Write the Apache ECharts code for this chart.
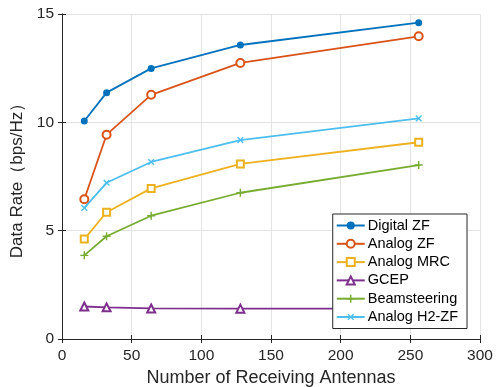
<!DOCTYPE html>
<html><head><meta charset="utf-8">
<script src="https://cdn.jsdelivr.net/npm/echarts@6/dist/echarts.min.js"></script>
<style>html,body{margin:0;padding:0;background:#fff}#c{width:500px;height:387px}</style>
</head><body><div id="c"></div>
<script>
const antennas = [16, 32, 64, 128, 256];
const digitalZF = [10.06, 11.37, 12.49, 13.57, 14.6];
const analogZF = [6.45, 9.43, 11.27, 12.74, 13.97];
const analogMRC = [4.61, 5.85, 6.95, 8.08, 9.08];
const gcep = [1.5, 1.46, 1.41, 1.4, 1.4];
const beamsteering = [3.86, 4.74, 5.69, 6.75, 8.03];
const analogH2ZF = [6.05, 7.21, 8.17, 9.18, 10.18];
const seriesNames = ['Digital ZF','Analog ZF','Analog MRC','GCEP','Beamsteering','Analog H2-ZF'];
const xTicks = [0,50,100,150,200,250,300];
const yTicks = [0,5,10,15];

const colors = ['#0072BD','#D95319','#EDB120','#7E2F8E','#77AC30','#4DBEEE'];
const plus = 'path://M4.1,0H5.9V4.1H10V5.9H5.9V10H4.1V5.9H0V4.1H4.1Z';
const datas = [digitalZF, analogZF, analogMRC, gcep, beamsteering, analogH2ZF];
const symbols = ['circle','emptyCircle','emptyRect','emptyTriangle',plus,plus];
const sizes = [7,8,7,8,8,8];
const rot = [0,0,0,0,0,45];

const font = 'Liberation Sans, Arial, sans-serif';
const axisLineStyle = {color:'#262626', width:1};
const chart = echarts.init(document.getElementById('c'));
chart.setOption({
  animation:false,
  grid:{left:62,right:20,top:14,bottom:48,containLabel:false,outerBoundsMode:'none'},
  legend:{
    data:seriesNames, orient:'vertical', right:33, top:214,
    backgroundColor:'#fff', borderColor:'#262626', borderWidth:1,
    padding:[4,9,4,3], itemGap:3.3, itemWidth:28, itemHeight:10,
    textStyle:{fontFamily:font,fontSize:14.5,lineHeight:15,color:'#000',padding:[0,0,0,-2]}
  },
  xAxis:[{
    type:'value', min:0, max:300, interval:50,
    name:'Number of Receiving Antennas', nameLocation:'middle', nameGap:30,
    nameTextStyle:{fontFamily:font,fontSize:18,color:'#262626'},
    axisLine:{lineStyle:axisLineStyle}, axisTick:{inside:true,length:4,lineStyle:axisLineStyle},
    axisLabel:{fontFamily:font,fontSize:15.5,color:'#262626',margin:9},
    splitLine:{show:true,lineStyle:{color:'#e3e3e3'}}
  },{
    type:'value', min:0, max:300, interval:50, position:'top',
    axisLine:{show:true,lineStyle:axisLineStyle}, axisTick:{show:true,inside:true,length:4,lineStyle:axisLineStyle},
    axisLabel:{show:false}, splitLine:{show:false}
  }],
  yAxis:[{
    type:'value', min:0, max:15, interval:5,
    name:'Data Rate（bps/Hz）', nameLocation:'middle', nameGap:26,
    nameTextStyle:{fontFamily:font,fontSize:17,color:'#262626'},
    axisLine:{show:true,lineStyle:axisLineStyle}, axisTick:{show:true,inside:true,length:4,lineStyle:axisLineStyle},
    axisLabel:{fontFamily:font,fontSize:15.5,color:'#262626',margin:8},
    splitLine:{show:true,lineStyle:{color:'#e3e3e3'}}
  },{
    type:'value', min:0, max:15, interval:5, position:'right',
    axisLine:{show:true,lineStyle:axisLineStyle}, axisTick:{show:true,inside:true,length:4,lineStyle:axisLineStyle},
    axisLabel:{show:false}, splitLine:{show:false}
  }],
  series: seriesNames.map((n,i)=>({
    name:n, type:'line', xAxisIndex:0, yAxisIndex:0,
    data: antennas.map((x,j)=>[x, datas[i][j]]),
    symbol:symbols[i], symbolSize:sizes[i], symbolRotate:rot[i],
    lineStyle:{color:colors[i], width:1.8},
    itemStyle:{color:colors[i], borderColor:colors[i], borderWidth: (i===1||i===2||i===3)?1.8:0},
    showAllSymbol:true
  }))
});
</script></body></html>
